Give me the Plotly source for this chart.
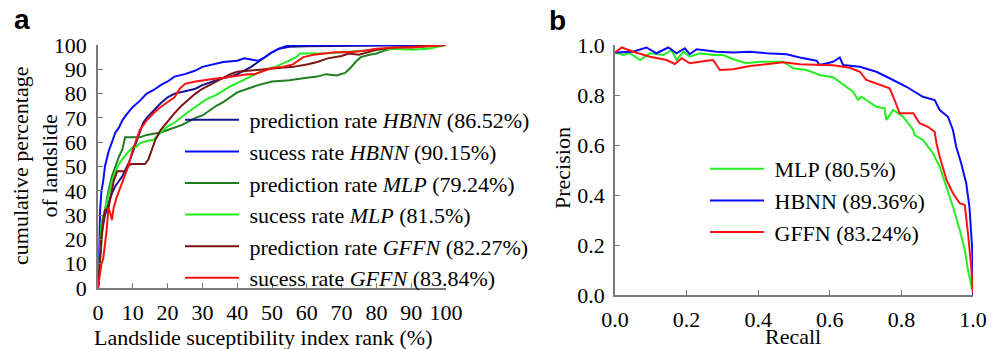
import plotly.graph_objects as go

# ---- Panel a: cumulative percentage of landslides vs susceptibility index rank ----
pred_hbnn_x = [0, 0.5, 1, 2, 3, 4, 5, 6, 7, 8, 9, 10, 11, 12, 13, 14, 16, 18, 20, 22, 25, 28, 30, 32, 35, 38, 40, 42, 44, 46, 48, 50, 52, 55, 60, 70, 80, 90, 100]
pred_hbnn_y = [0, 12, 22, 30, 35, 39, 42, 44, 46, 49, 52, 56, 60, 64, 68, 70, 73, 76, 78.5, 80, 81, 82, 83.5, 84.5, 86, 87, 88, 89.5, 91, 93, 95, 97, 98.5, 99.3, 99.5, 99.6, 99.7, 99.8, 100]

succ_hbnn_x = [0, 0.3, 0.6, 1, 1.5, 2, 3, 4, 5, 6, 7, 8, 9, 10, 12, 14, 16, 18, 20, 22, 25, 28, 30, 33, 36, 40, 42, 44, 46, 48, 50, 52, 54, 56, 60, 70, 80, 90, 100]
succ_hbnn_y = [0, 10, 32, 40, 44, 50, 56, 60, 64, 66, 69, 71, 73, 74.5, 77, 80, 81.5, 83.5, 85, 87, 88, 89.5, 91, 92, 93, 93.5, 94.5, 94, 93.5, 95, 97, 98.5, 99.5, 100, 100, 100, 100, 100, 100]

pred_mlp_x = [0, 0.5, 1, 1.5, 2, 3, 4, 5, 6, 7, 7.8, 12, 14, 16, 18, 20, 22, 24, 26, 28, 30, 32, 34, 36, 38, 40, 43, 46, 50, 55, 60, 63, 65.5, 68.5, 71, 72.5, 74, 75.5, 78, 80, 83, 87, 90, 95, 100]
pred_mlp_y = [0, 10, 22, 28, 32, 40, 46, 50, 54, 57, 62, 62, 63, 63.5, 64, 65, 66, 67, 68.5, 70, 71, 73, 75, 76.5, 78.5, 80.5, 82, 83.5, 85, 85.5, 86.5, 87, 88, 87.5, 88.5, 90.5, 93, 95, 96, 96.5, 98, 99, 99, 99.5, 100]

succ_mlp_x = [0, 0.5, 1, 2, 3, 4, 5, 6, 7, 8, 9, 10, 11, 12, 14, 16, 18, 20, 22, 25, 28, 31, 34, 38, 41, 44, 48, 51, 54, 57, 58, 60, 65, 70, 75, 80, 85, 90, 95, 100]
succ_mlp_y = [0, 15, 27, 32, 38, 44, 48, 51, 53, 55, 56.5, 58, 58, 59.5, 60.5, 61, 64, 66.5, 68, 71.5, 74.5, 77.5, 79.5, 83, 85, 87, 90, 91, 93, 95, 96.5, 96.5, 96.5, 97, 97.5, 98, 98.5, 98, 98.5, 100]

pred_gffn_x = [0, 0.5, 1, 1.5, 2, 3, 4, 4.5, 5.5, 8, 8.5, 9.5, 13.5, 14.5, 15.5, 16.5, 18, 20, 22, 24, 26, 28, 30, 32, 35, 38, 40, 44, 48, 52, 56, 60, 63, 65, 66, 70, 72, 75, 80, 85, 90, 100]
pred_gffn_y = [0, 12, 22, 28, 32, 33, 40, 44, 48, 48, 50, 51, 51, 53, 57, 61, 65, 68.5, 72, 75, 77.5, 80, 82, 83.5, 85.5, 88, 89, 89.5, 90, 90.5, 91, 92, 93, 94, 94.5, 95.5, 96.5, 96, 98, 99, 99.3, 100]

succ_gffn_x = [0, 0.5, 1, 1.5, 2, 2.5, 3, 3.5, 4, 4.5, 5.4, 6.8, 8, 8.7, 10, 11, 12, 14, 16, 18, 20, 22, 23.5, 25, 28, 30, 33, 36, 40, 43, 45, 48, 50, 53, 56, 59, 62, 65, 68, 72, 76, 80, 85, 90, 95, 100]
succ_gffn_y = [0, 6, 10, 12, 18, 24, 33, 31, 28, 33, 37.5, 43, 47, 50, 57, 61, 65, 69, 72, 74.5, 76.5, 78.5, 82, 84, 85, 85.5, 86, 86.5, 87.5, 88, 88, 89.5, 90.5, 91, 92, 95, 96, 96.5, 97, 97, 97.5, 98.5, 99, 99, 99.5, 100]

# ---- Panel b: precision-recall curves ----
mlp_recall = [0, 0.023, 0.042, 0.07, 0.098, 0.135, 0.158, 0.172, 0.191, 0.209, 0.237, 0.274, 0.302, 0.33, 0.367, 0.405, 0.47, 0.498, 0.535, 0.572, 0.609, 0.647, 0.665, 0.679, 0.688, 0.702, 0.73, 0.753, 0.758, 0.777, 0.805, 0.833, 0.837, 0.86, 0.888, 0.907, 0.926, 0.944, 0.963, 0.977, 0.986, 0.998]
mlp_precision = [0.97, 0.96, 0.967, 0.94, 0.967, 0.96, 0.98, 0.94, 0.973, 0.953, 0.967, 0.96, 0.96, 0.943, 0.927, 0.933, 0.933, 0.907, 0.9, 0.88, 0.871, 0.833, 0.813, 0.78, 0.793, 0.78, 0.753, 0.747, 0.7, 0.74, 0.713, 0.66, 0.64, 0.62, 0.567, 0.513, 0.433, 0.353, 0.26, 0.18, 0.1, 0.02]

hbnn_recall = [0, 0.05, 0.088, 0.116, 0.149, 0.172, 0.195, 0.209, 0.228, 0.284, 0.33, 0.377, 0.423, 0.479, 0.516, 0.563, 0.572, 0.609, 0.628, 0.637, 0.684, 0.73, 0.767, 0.814, 0.86, 0.893, 0.907, 0.93, 0.944, 0.953, 0.967, 0.981, 0.99, 0.998, 1.0]
hbnn_precision = [0.97, 0.973, 0.99, 0.967, 0.99, 0.967, 0.987, 0.963, 0.983, 0.973, 0.97, 0.973, 0.967, 0.963, 0.95, 0.937, 0.92, 0.933, 0.95, 0.92, 0.913, 0.893, 0.867, 0.833, 0.793, 0.78, 0.74, 0.713, 0.66, 0.593, 0.527, 0.447, 0.353, 0.18, 0.0]

gffn_recall = [0, 0.019, 0.051, 0.098, 0.144, 0.167, 0.186, 0.209, 0.256, 0.274, 0.293, 0.33, 0.377, 0.423, 0.47, 0.516, 0.563, 0.609, 0.656, 0.684, 0.702, 0.74, 0.767, 0.781, 0.795, 0.833, 0.851, 0.874, 0.893, 0.898, 0.907, 0.926, 0.944, 0.963, 0.977, 0.986, 0.995, 1.0]
gffn_precision = [0.97, 0.99, 0.973, 0.953, 0.94, 0.924, 0.947, 0.927, 0.937, 0.94, 0.9, 0.903, 0.916, 0.923, 0.931, 0.923, 0.92, 0.919, 0.909, 0.893, 0.86, 0.84, 0.827, 0.78, 0.727, 0.727, 0.687, 0.673, 0.653, 0.607, 0.553, 0.46, 0.407, 0.367, 0.36, 0.247, 0.113, 0.007]

x_ticks_a = [0, 10, 20, 30, 40, 50, 60, 70, 80, 90, 100]
y_ticks_a = [0, 10, 20, 30, 40, 50, 60, 70, 80, 90, 100]
ticks_b = [0.0, 0.2, 0.4, 0.6, 0.8, 1.0]
tick_text_b = ["0.0", "0.2", "0.4", "0.6", "0.8", "1.0"]

SERIF = "Liberation Serif"
SANS = "Liberation Sans"
AXIS_GRAY = "#7a7a7a"
LW = 2
NBSP = "\u00a0"

fig = go.Figure()

series_a = [
    (pred_hbnn_x, pred_hbnn_y, "#14148c", "prediction rate <i>HBNN</i> (86.52%)"),
    (succ_hbnn_x, succ_hbnn_y, "#0a0aff", "sucess rate <i>HBNN</i> (90.15%)"),
    (pred_mlp_x, pred_mlp_y, "#1f7d1f", "prediction rate <i>MLP</i> (79.24%)"),
    (succ_mlp_x, succ_mlp_y, "#22ee22", "sucess rate <i>MLP</i> (81.5%)"),
    (pred_gffn_x, pred_gffn_y, "#7d1414", "prediction rate <i>GFFN</i> (82.27%)"),
    (succ_gffn_x, succ_gffn_y, "#ff1010", "sucess rate <i>GFFN</i> (83.84%)"),
]
for xs, ys, col, name in series_a:
    fig.add_trace(go.Scatter(x=xs, y=ys, mode="lines", name=NBSP + name,
                             line=dict(color=col, width=LW),
                             xaxis="x", yaxis="y", legend="legend"))

series_b = [
    (mlp_recall, mlp_precision, "#22ee22", "MLP (80.5%)"),
    (hbnn_recall, hbnn_precision, "#0a0aff", "HBNN (89.36%)"),
    (gffn_recall, gffn_precision, "#ff1010", "GFFN (83.24%)"),
]
for xs, ys, col, name in series_b:
    fig.add_trace(go.Scatter(x=xs, y=ys, mode="lines", name=NBSP + name,
                             line=dict(color=col, width=LW),
                             xaxis="x2", yaxis="y2", legend="legend2"))

axis_common = dict(showgrid=False, zeroline=False, showline=True, linecolor=AXIS_GRAY,
                   linewidth=1.5, ticks="inside", ticklen=5, tickcolor=AXIS_GRAY,
                   automargin=False,
                   tickfont=dict(family=SERIF, size=22, color="black"))

fig.update_layout(
    width=1002, height=349,
    margin=dict(l=0, r=0, t=0, b=0, autoexpand=False),
    paper_bgcolor="white", plot_bgcolor="white",
    font=dict(family=SERIF, size=22, color="black"),
    xaxis=dict(domain=[98 / 1002, 446 / 1002], range=[0, 100], tickvals=x_ticks_a,
               anchor="y", ticklabelstandoff=4, **axis_common),
    yaxis=dict(domain=[61 / 349, 304 / 349], range=[0, 100], tickvals=y_ticks_a,
               anchor="x", ticklabelstandoff=5, **axis_common),
    xaxis2=dict(domain=[615 / 1002, 973 / 1002], range=[0, 1], tickvals=ticks_b,
                ticktext=tick_text_b, anchor="y2", ticklabelstandoff=4, **axis_common),
    yaxis2=dict(domain=[54 / 349, 304 / 349], range=[0, 1], tickvals=ticks_b,
                ticktext=tick_text_b, anchor="x2", ticklabelstandoff=4, **axis_common),
    legend=dict(x=180 / 1002, y=1 - 99 / 349, xanchor="left", yanchor="top",
                bgcolor="rgba(0,0,0,0)", font=dict(family=SERIF, size=22),
                itemwidth=54, tracegroupgap=0),
    legend2=dict(x=705 / 1002, y=1 - 148 / 349, xanchor="left", yanchor="top",
                 bgcolor="rgba(0,0,0,0)", font=dict(family=SERIF, size=22),
                 itemwidth=54, tracegroupgap=0),
    showlegend=True,
)

annotations = [
    dict(text="<b>a</b>", x=12 / 1002, y=1 - 19 / 349, font=dict(family=SANS, size=28)),
    dict(text="<b>b</b>", x=547 / 1002, y=1 - 21 / 349, font=dict(family=SANS, size=28)),
    dict(text="Landslide suceptibility index rank (%)", x=263 / 1002, y=1 - 337 / 349,
         font=dict(family=SERIF, size=22)),
    dict(text="cumulative percentage<br>of landslide", x=35 / 1002, y=1 - 166 / 349,
         textangle=-90, font=dict(family=SERIF, size=22)),
    dict(text="Precision", x=563 / 1002, y=1 - 168 / 349, textangle=-90,
         font=dict(family=SERIF, size=22)),
    dict(text="Recall", x=793 / 1002, y=1 - 336 / 349, font=dict(family=SERIF, size=22)),
]
for a in annotations:
    a.update(xref="paper", yref="paper", showarrow=False)
    if a["text"] in ("<b>a</b>", "<b>b</b>"):
        a.update(xanchor="left", yanchor="middle")
    else:
        a.update(xanchor="center", yanchor="middle")
fig.update_layout(annotations=annotations)

fig.write_html("out.html")
